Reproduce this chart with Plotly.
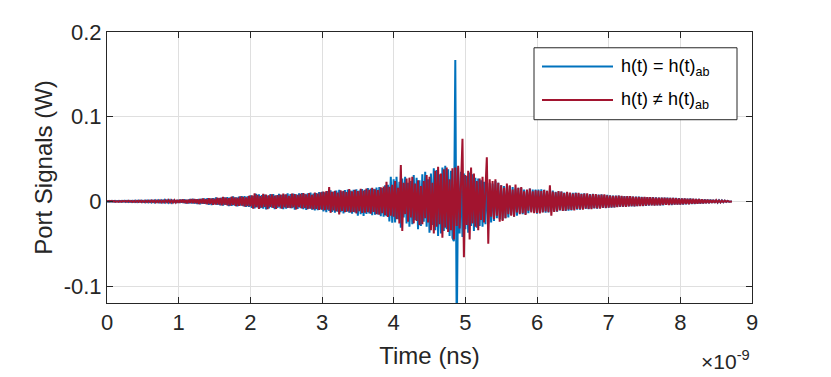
import plotly.graph_objects as go

# ---------------- data ----------------
t_step_s = 0.02e-9          # sample spacing (s)
n_samples = 437             # 0 .. 8.72 ns

# h(t) = h(t)_ab  (blue), in W
sig_equal = [
    0,-.0004,.0005,-.0004,.0005,-.0005,.0006,-.0004,.0006,-.0006,
    .0005,-.0006,.0007,-.0006,.0007,-.0007,.0006,-.0008,.0007,-.0007,
    .0008,-.0008,.0009,-.0007,.0009,-.0009,.0008,-.001,.0009,-.001,
    .001,-.0011,.0009,-.0011,.0012,-.001,.0012,-.0013,.0011,-.0012,
    .0014,-.0012,.0013,-.0015,.0014,-.0013,.0016,-.0015,.0014,-.0017,
    .0018,-.0017,.0021,-.0019,.0023,-.0025,.0019,-.0024,.0027,-.0023,
    .0029,-.0026,.0024,-.0031,.0028,-.0033,.003,-.0027,.0035,-.0032,
    .0036,-.0039,.0033,-.0042,.0037,-.0035,.0045,-.0041,.0038,-.0047,
    .0044,-.0051,.0046,-.0042,.005,-.0055,.0048,-.0053,.0058,-.0051,
    .0047,-.0059,.0055,-.005,.0063,-.0057,.0061,-.0066,.0058,-.0064,
    .007,-.0078,.0066,-.0084,.0089,-.0071,.0082,-.0079,.0073,-.0086,
    .0079,-.0095,.0068,-.0082,.0087,-.0074,.0085,-.0091,.0072,-.0078,
    .0088,-.0083,.0076,-.0092,.0081,-.0087,.0095,-.0073,.0086,-.0079,
    .0091,-.0098,.0084,-.0089,.0094,-.0081,.0097,-.0092,.0088,-.0101,
    .0095,-.0087,.0103,-.0097,.0091,-.0106,.0099,-.0104,.0109,-.0096,
    .0112,-.0119,.0106,-.0128,.0123,-.0114,.0131,-.0125,.0117,-.0134,
    .0128,-.0121,.0137,-.0129,.0119,-.0141,.0133,-.0126,.0139,-.0135,
    .0127,-.0144,.0138,-.0131,.0142,-.0168,.0129,-.0152,.0145,-.0172,
    .0138,-.0149,.0156,-.0143,.0151,-.0162,.0147,-.0158,.0164,-.0153,
    .0169,-.0175,.0158,-.0182,.0189,-.0176,.0195,-.0238,.0291,-.0252,
    .026,-.025,.029,-.021,.023,-.031,.027,-.019,.029,-.026,
    .022,-.03,.024,-.027,.031,-.022,.028,-.033,.025,-.029,
    .032,-.024,.035,-.03,.026,-.037,.033,-.028,.039,-.034,
    .037,-.041,.032,-.038,.04,-.035,.042,-.033,.038,-.041,
    .036,-.043,-.047,.167,-.165,.04,-.038,.035,-.042,.033,
    -.033,.03,-.037,.034,-.029,.032,-.035,.028,-.031,.027,
    -.029,.025,-.03,.023,-.027,.024,-.026,.022,-.025,.021,
    -.023,.024,-.02,.022,-.021,.019,-.022,.018,-.02,.017,
    -.019,.018,-.016,.017,-.018,.015,-.017,.016,-.014,.016,
    -.015,.014,-.015,.013,-.014,.015,-.012,.014,-.013,.014,
    -.0145,.0139,-.0132,.0141,-.0128,.0136,-.0133,.0124,-.0131,.0125,
    -.0119,.0127,-.0121,.0114,-.0123,.0116,-.0108,.0117,-.0111,.0104,
    -.0112,.0103,-.0109,.0098,-.0106,.0101,-.0094,.0103,-.0097,.0091,
    -.0099,.0093,-.0087,.0096,-.0089,.0084,-.0091,.0086,-.0082,.0088,
    -.0083,.0079,-.0085,.0081,-.0076,.0083,-.0078,.0074,-.0079,.0076,
    -.0073,.0071,-.0074,.0068,-.007,.0069,-.0066,.0068,-.0065,.0063,
    -.0066,.0062,-.006,.0063,-.0059,.0061,-.0058,.0057,-.006,.0056,
    -.0055,.0057,-.0054,.0053,-.0055,.0051,-.0052,.005,-.0051,.0049,
    -.0048,.005,-.0047,.0048,-.0046,.0045,-.0047,.0044,-.0045,.0043,
    -.0042,.0044,-.0041,.004,-.0042,.0039,-.0038,.004,-.0037,.0038,
    -.0037,.0035,-.0036,.0033,-.0034,.0032,-.0031,.0033,-.003,.0029,
    -.003,.0028,-.0027,.0026,-.0027,.0025,-.0023,.0024,-.0022,.0021,
    -.002,.0019,-.0018,.0017,-.0016,.0015,-.0014,.0013,-.0012,.0011,
    -.001,.0009,-.0007,.0006,-.0004,.0002,0,
]

# h(t) != h(t)_ab  (red), in W
sig_diff = [
    0,.0004,-.0004,.0005,-.0003,.0005,-.0005,.0004,-.0006,.0005,
    -.0005,.0006,-.0004,.0006,-.0006,.0007,-.0005,.0006,-.0007,.0006,
    -.0007,.0008,-.0006,.0008,-.0008,.0007,-.0009,.0008,-.0008,.0009,
    -.0009,.001,-.0008,.001,-.0011,.0009,-.001,.0012,-.0011,.001,
    -.0012,.0013,-.0011,.0014,-.0013,.0012,-.0015,.0014,-.0013,.0016,
    -.0016,.002,-.0014,.0022,-.0019,.0017,-.0024,.0021,-.0018,.0026,
    -.0022,.0028,-.002,.0025,-.003,.0027,-.0024,.0033,-.0029,.0026,
    -.0034,.0038,-.003,.0035,-.0041,.0032,-.0037,.0044,-.0036,.004,
    -.0046,.0052,-.0039,.0043,-.0048,.0038,-.005,.0055,-.0042,.0047,
    -.0056,.0045,-.0052,.006,-.0049,.0054,-.0062,.0048,-.0057,.0065,
    -.0058,.0072,-.0085,.0095,-.0068,.0078,-.009,.0062,-.0074,.0088,
    -.0066,.0081,-.0092,.007,-.0064,.0083,-.0077,.0069,-.0088,.0075,
    -.0063,.0079,-.0085,.0091,-.007,.0084,-.0078,.0066,-.0081,.0093,
    -.0072,.0087,-.0096,.0078,-.0069,.0089,-.0083,.0097,-.0076,.0082,
    -.0091,.0099,-.0085,.0076,-.0094,.0104,-.0088,.0092,-.0101,.0108,
    -.0098,.0115,-.0104,.0121,-.0097,.017,-.0135,.0112,-.0108,.0126,
    -.0118,.0105,-.0155,.0131,-.0112,.0124,-.0127,.0109,-.0119,.0145,
    -.0132,.0118,-.0125,.0136,-.0141,.0122,-.0116,.0149,-.0138,.0127,
    -.0135,.0152,-.0129,.0138,-.0146,.0159,-.0124,.0141,-.0152,.0134,
    -.0158,.0167,-.0141,.0176,-.0162,.023,-.0185,.0172,-.0168,.0195,
    -.018,.024,-.021,.016,-.026,.043,-.035,.022,-.015,.027,
    -.024,.028,-.019,.029,-.026,.021,-.023,.025,-.028,.018,
    -.027,.024,-.02,.031,-.025,.029,-.034,.022,-.038,.036,
    -.03,.041,-.027,.033,-.043,.038,-.031,.04,-.036,.026,
    -.034,.039,-.045,.04,-.029,.042,-.032,.035,.074,-.066,
    .031,-.028,.036,-.045,.04,-.026,.033,-.03,.024,-.034,
    .027,-.022,.029,-.025,.021,.052,-.05,.026,-.018,.024,
    -.021,.026,-.017,.022,-.024,.019,-.023,.016,-.02,.021,
    -.015,.019,-.017,.014,-.018,.02,-.013,.016,-.015,.017,
    -.014,.012,-.016,.014,-.011,.015,-.013,.012,-.014,.013,
    -.0136,.0128,-.0141,.0122,-.0131,.0135,-.0118,.0126,-.0129,.019,
    -.017,.0117,-.0124,.0108,-.0119,.0121,-.0104,.0115,-.0112,.0098,
    -.0109,.0113,-.0095,.0104,-.0101,.0092,-.0106,.0097,-.0089,.0101,
    -.0093,.0086,-.0098,.0091,-.0084,.0095,-.0088,.0081,-.0092,.0085,
    -.0079,.0087,-.0083,.0076,-.0085,.0079,-.0074,.0082,-.0077,.0072,
    -.0075,.0069,-.0072,.0066,-.0071,.0064,-.0068,.0067,-.0062,.0065,
    -.0063,.0059,-.0066,.0061,-.0058,.0062,-.0057,.0056,-.0059,.0054,
    -.0056,.0053,-.0055,.0051,-.0053,.0052,-.0049,.0051,-.0048,.005,
    -.0047,.0046,-.0049,.0045,-.0046,.0044,-.0045,.0043,-.0042,.0044,
    -.0041,.004,-.0042,.0039,-.0038,.004,-.0037,.0036,-.0038,.0035,
    -.0036,.0034,-.0033,.0035,-.0032,.0031,-.0033,.003,-.0029,.0031,
    -.0028,.0027,-.0028,.0026,-.0025,.0024,-.0024,.0022,-.0021,.002,
    -.0019,.0018,-.0017,.0016,-.0015,.0014,-.0013,.0012,-.0011,.001,
    -.0009,.0008,-.0006,.0005,-.0003,.0002,0,
]

time_s = [i * t_step_s for i in range(n_samples)]

x_tickvals = [k * 1e-9 for k in range(10)]
x_ticktext = ["0", "1", "2", "3", "4", "5", "6", "7", "8", "9"]
y_tickvals = [-0.1, 0, 0.1, 0.2]
y_ticktext = ["-0.1", "0", "0.1", "0.2"]

series_names = ["h(t) = h(t)<sub>ab</sub>", "h(t) \u2260 h(t)<sub>ab</sub>"]
BLUE = "#0072BD"
RED = "#A2142F"

FONT = "Liberation Sans, Arial, Helvetica, sans-serif"
AXC = "#262626"

# ---------------- figure ----------------
fig = go.Figure()
fig.add_trace(go.Scatter(x=time_s, y=sig_equal, mode="lines",
                         line=dict(color=BLUE, width=2), name=series_names[0],
                         showlegend=False))
fig.add_trace(go.Scatter(x=time_s, y=sig_diff, mode="lines",
                         line=dict(color=RED, width=2), name=series_names[1],
                         showlegend=False))

# page body has an 8px margin; size the figure so the plot area lands
# at absolute pixels x 107..752, y 28..303
W, H = 823, 369
L, R, T, B = 99, 79, 20, 74
PLOT_X0, PLOT_X1, PLOT_Y0, PLOT_Y1 = 107, 752, 28, 303

def px(xp):
    return (xp - PLOT_X0) / (PLOT_X1 - PLOT_X0)

def py(yp):
    return (PLOT_Y1 - yp) / (PLOT_Y1 - PLOT_Y0)

axis_common = dict(
    showline=True, linecolor=AXC, linewidth=1, mirror="ticks",
    ticks="inside", ticklen=6, tickcolor=AXC, tickwidth=1,
    showgrid=True, gridcolor="#dfdfdf", gridwidth=1,
    zeroline=False, tickfont=dict(family=FONT, size=22, color=AXC),
)

fig.update_layout(
    width=W, height=H,
    margin=dict(l=L, r=R, t=T, b=B, pad=0),
    paper_bgcolor="white", plot_bgcolor="white",
    font=dict(family=FONT, color=AXC),
    xaxis=dict(range=[0, 9e-9], tickvals=x_tickvals, ticktext=x_ticktext,
               title=dict(text="Time (ns)", font=dict(family=FONT, size=24, color=AXC),
                          standoff=12),
               **axis_common),
    yaxis=dict(range=[-0.12, 0.2], tickvals=y_tickvals, ticktext=y_ticktext,
               title=dict(text="Port Signals (W)", font=dict(family=FONT, size=24, color=AXC),
                          standoff=4),
               **axis_common),
)

# exponent label
fig.add_annotation(x=1.0, y=py(361), xref="paper", yref="paper",
                   xanchor="right", yanchor="middle", showarrow=False,
                   text="\u00d710<sup>-9</sup>",
                   font=dict(family=FONT, size=21, color=AXC))

# custom MATLAB-style legend
fig.add_shape(type="rect", xref="paper", yref="paper",
              x0=px(534), x1=px(737), y0=py(117), y1=py(44),
              line=dict(color=AXC, width=1), fillcolor="white", layer="above")
for name, color, ly in [(series_names[0], BLUE, 63), (series_names[1], RED, 97)]:
    fig.add_shape(type="line", xref="paper", yref="paper",
                  x0=px(542), x1=px(613), y0=py(ly), y1=py(ly),
                  line=dict(color=color, width=2), layer="above")
    fig.add_annotation(x=px(619), y=py(ly + 1), xref="paper", yref="paper",
                       xanchor="left", yanchor="middle", showarrow=False,
                       text=name, font=dict(family=FONT, size=18, color="#000000"))

fig.write_html("out.html")
